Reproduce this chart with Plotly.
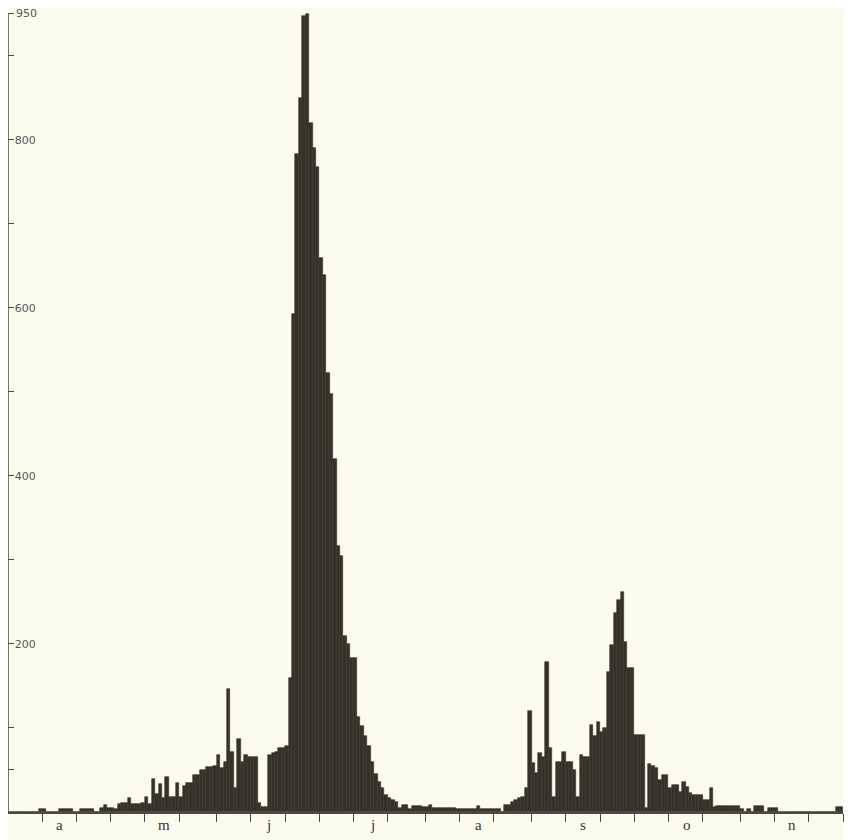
import plotly.graph_objects as go

# ---- data (daily counts, 1 April - 30 November) ----
month_labels = ["a", "m", "j", "j", "a", "s", "o", "n"]
month_lengths = [30, 31, 30, 31, 31, 30, 31, 30]

apr = [0, 0, 0, 0, 0, 0, 0, 0, 0, 4,
       4, 0, 0, 0, 0, 4, 4, 4, 4, 0,
       0, 4, 4, 4, 4, 0, 0, 5, 8, 5]
may = [5, 4, 10, 11, 11, 17, 9, 9, 10, 11,
       18, 9, 39, 22, 33, 17, 42, 18, 18, 35,
       18, 31, 35, 35, 44, 44, 50, 50, 54, 54, 55]
jun = [68, 52, 60, 146, 71, 28, 87, 60, 68, 65,
       65, 65, 11, 6, 6, 68, 70, 72, 76, 76,
       78, 160, 593, 783, 850, 948, 950, 820, 790, 768]
jul = [660, 639, 523, 498, 420, 317, 305, 210, 200, 183,
       183, 113, 102, 90, 79, 60, 45, 36, 28, 20,
       17, 14, 12, 5, 8, 8, 3, 7, 7, 7, 6]
aug = [6, 8, 5, 5, 5, 5, 5, 5, 5, 3,
       3, 3, 3, 3, 3, 7, 4, 4, 4, 4,
       4, 4, 0, 8, 8, 12, 14, 17, 18, 29, 120]
sep = [58, 46, 70, 66, 179, 76, 18, 60, 60, 71,
       60, 60, 50, 18, 68, 66, 66, 103, 90, 107,
       95, 100, 167, 199, 237, 252, 262, 202, 171, 171]
oct_ = [92, 92, 92, 5, 57, 55, 52, 38, 44, 44,
        29, 32, 32, 24, 36, 30, 23, 20, 20, 20,
        14, 14, 29, 6, 7, 7, 7, 7, 7, 7, 7]
nov = [4, 0, 4, 0, 7, 7, 7, 0, 5, 5,
       5, 0, 0, 0, 0, 0, 0, 0, 0, 0,
       0, 0, 0, 0, 0, 0, 0, 0, 6, 6]

y_tick_values = [50, 100, 200, 300, 400, 500, 600, 700, 800, 900, 950]
y_tick_labels = ["", "", "200", "", "400", "", "600", "", "800", "", ""]
y_top = 950
y_top_label = "950"

# ---- build ----
counts = apr + may + jun + jul + aug + sep + oct_ + nov
x_centers = [d + 0.5 for d in range(len(counts))]
n_days = len(counts)

month_starts = []
s = 0
for L in month_lengths:
    month_starts.append(s)
    s += L
x_tick_vals = []
for st in month_starts:
    x_tick_vals += [st, st + 10, st + 20]
x_tick_vals.append(n_days)
month_centers = [st + L / 2 for st, L in zip(month_starts, month_lengths)]

BG = "#fcfcee"
BAR = "#36322a"
INK = "#4a4a44"

fig = go.Figure()
fig.add_trace(go.Bar(
    x=x_centers, y=counts, width=1.0,
    marker=dict(color=BAR, line=dict(color=BAR, width=0.6)),
    hoverinfo="x+y", showlegend=False,
))

for c, lab in zip(month_centers, month_labels):
    fig.add_annotation(x=c, y=0, xref="x", yref="paper", text=lab,
                       showarrow=False, yanchor="top", yshift=-3,
                       font=dict(family="Liberation Serif", size=15, color="#333"))

# top tick label (plotly hides inside labels touching the plot edge)
fig.add_annotation(x=0, y=y_top, xref="x", yref="y", text=y_top_label,
                   showarrow=False, xanchor="left", yanchor="middle", xshift=6,
                   font=dict(family="DejaVu Sans", size=11, color="#555"))

# y axis line drawn only up to the top tick (950)
fig.add_shape(type="line", xref="x", yref="y", x0=0, x1=0, y0=0, y1=y_top,
              line=dict(color=INK, width=1.5))

# the page body has an 8px default margin, so the figure is offset by 8px
fig.update_layout(
    width=844, height=832,
    margin=dict(l=0, r=9, t=0, b=28),
    paper_bgcolor=BG, plot_bgcolor=BG,
    bargap=0,
    xaxis=dict(range=[0, n_days], tickmode="array", tickvals=x_tick_vals,
               ticktext=["" for _ in x_tick_vals],
               ticks="outside", ticklen=8, tickwidth=1.2, tickcolor=INK,
               showline=True, linecolor=INK, linewidth=1.5,
               showgrid=False, zeroline=False, fixedrange=True),
    yaxis=dict(range=[0, 957], tickmode="array", tickvals=y_tick_values,
               ticktext=y_tick_labels, ticks="inside", ticklen=6,
               tickwidth=1.2, tickcolor=INK,
               ticklabelposition="inside",
               tickfont=dict(family="DejaVu Sans", size=11, color="#555"),
               showline=False,
               showgrid=False, zeroline=False, fixedrange=True),
)

fig.write_html("out.html")
